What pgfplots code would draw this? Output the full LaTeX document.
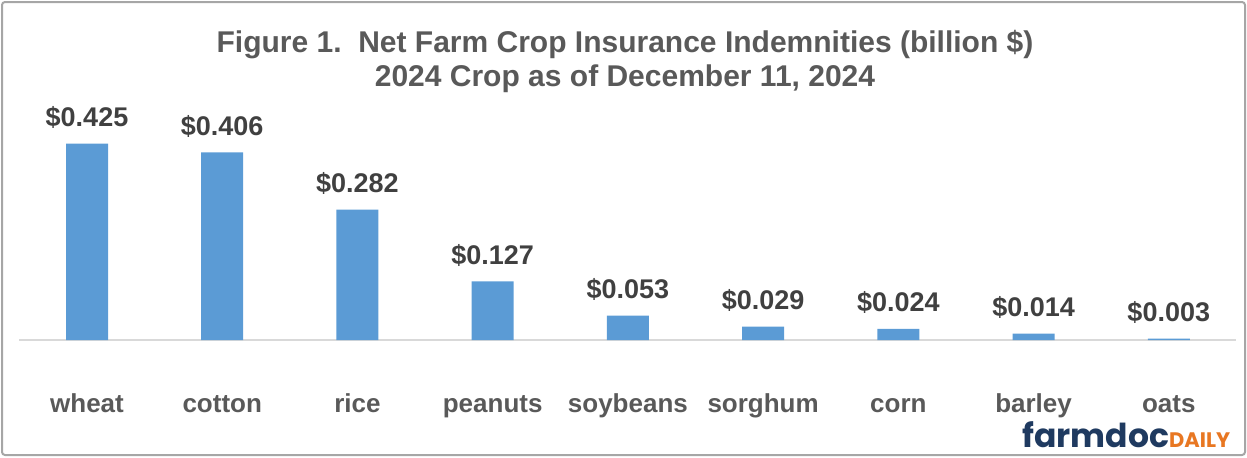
\documentclass[border=0pt]{standalone}
\usepackage{fontspec}
\setmainfont{Liberation Sans}
\newfontfamily\logofont{Poppins}
\usepackage{pgfplots}
\pgfplotsset{compat=1.18}
\definecolor{barblue}{HTML}{5B9BD5}
\definecolor{txtgray}{HTML}{595959}
\definecolor{valgray}{HTML}{404040}
\definecolor{framegray}{HTML}{A6A6A6}
\definecolor{basegray}{HTML}{D9D9D9}
\definecolor{logonavy}{HTML}{1F3A60}
\definecolor{logoorange}{HTML}{E87722}
\begin{document}
\begin{tikzpicture}
\useasboundingbox (0,0) rectangle (623.5pt,228.5pt);
\draw[color=framegray, line width=1pt, rounded corners=1.5pt] (1pt,1pt) rectangle (622.5pt,227.5pt);
\node[anchor=base, inner sep=0, text=txtgray, font=\bfseries\fontsize{15}{18}\selectfont] at (312.5pt,202.5pt) {Figure 1.\ \ Net Farm Crop Insurance Indemnities (billion \$)};
\node[anchor=base, inner sep=0, text=txtgray, font=\bfseries\fontsize{15}{18}\selectfont] at (312.5pt,185.5pt) {2024 Crop as of December 11, 2024};
\begin{axis}[
  at={(9.7pt,58.5pt)}, anchor=south west,
  scale only axis, width=608.5pt, height=120pt,
  xmin=-0.5, xmax=8.5, ymin=0, ymax=0.5195,
  axis y line=none, axis x line*=bottom,
  x axis line style={-, draw=basegray, line width=0.8pt},
  ytick=\empty,
  xtick={0,...,8},
  xticklabels={wheat,cotton,rice,peanuts,soybeans,sorghum,corn,barley,oats},
  major tick length=0pt,
  xticklabel style={anchor=base, yshift=-36pt, text=txtgray, font=\bfseries\fontsize{13}{15}\selectfont},
  ybar, bar width=21pt,
  clip=false,
  /pgf/number format/assume math mode=true,
  nodes near coords={\$\pgfmathprintnumber[fixed,fixed zerofill,precision=3]{\pgfplotspointmeta}},
  every node near coord/.append style={anchor=base, yshift=8.5pt, text=valgray, font=\bfseries\fontsize{13.5}{15}\selectfont},
]
\addplot[fill=barblue, draw=none, bar shift=0pt] coordinates {
 (0,0.425) (1,0.406) (2,0.282) (3,0.127) (4,0.053) (5,0.029) (6,0.024) (7,0.014) (8,0.003)
};
\end{axis}
\node[anchor=base west, inner sep=0] at (511pt,5pt) {\logofont\bfseries\fontsize{16.5}{18}\selectfont\color{logonavy}farmdoc\color{logoorange}\fontsize{10.5}{12}\selectfont DAILY};
\end{tikzpicture}
\end{document}
